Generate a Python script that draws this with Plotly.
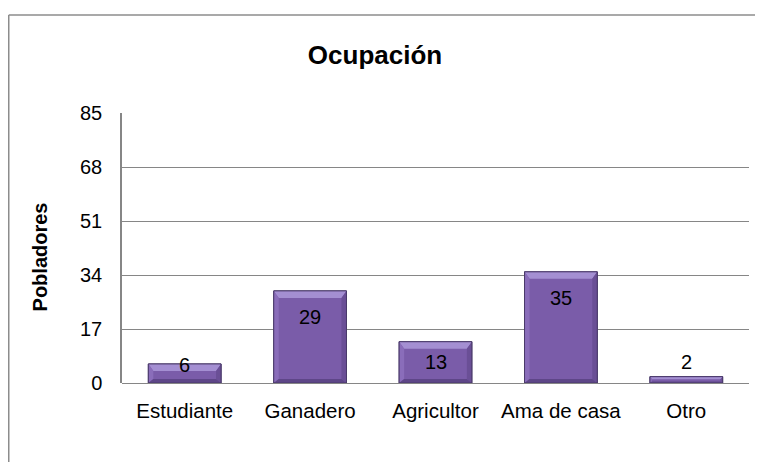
import plotly.graph_objects as go

categories = ["Estudiante", "Ganadero", "Agricultor", "Ama de casa", "Otro"]
values = [6, 29, 13, 35, 2]
y_ticks = [0, 17, 34, 51, 68, 85]

title_text = "Ocupación"
y_title = "Pobladores"

OFF = 8  # page body margin offset
W, H = 763 - OFF, 462 - OFF
ML, MR, MT, MB = 122 - OFF, 14, 113 - OFF, 79
plot_w = W - ML - MR
plot_h = H - MT - MB
y_max = y_ticks[-1]
n = len(categories)
bar_w = 0.58

px_x = plot_w / n          # px per x unit
px_y = plot_h / y_max      # px per y unit

font = "Liberation Sans, Arial, sans-serif"
grid = "#868686"

xs = list(range(n))

fig = go.Figure()
fig.add_trace(go.Bar(
    x=xs, y=values, width=bar_w,
    marker=dict(color="#7a5ca9", line=dict(color="#4a3a6a", width=1)),
    hoverinfo="skip",
))

shapes = []
# outer chart border (top and left edges visible in the crop)
bx0 = (0 - ML + 0.75) / plot_w
by1 = (H - MB - 7) / plot_h
shapes.append(dict(type="line", xref="paper", yref="paper", x0=bx0, x1=(W - ML) / plot_w,
                   y0=by1, y1=by1, line=dict(color="#8c8c8c", width=1.5), layer="below"))
shapes.append(dict(type="line", xref="paper", yref="paper", x0=bx0, x1=bx0,
                   y0=-MB / plot_h, y1=by1, line=dict(color="#8c8c8c", width=1.5), layer="below"))

for i, v in enumerate(values):
    hpx = v * px_y
    l = i - bar_w / 2
    r = i + bar_w / 2
    bt = min(7, hpx / 2.5) / px_y   # top bevel height (data units)
    bs = min(5, hpx / 3) / px_x     # side bevel width
    bb = min(4, hpx / 4) / px_y     # bottom bevel
    shapes.append(dict(type="path", xref="x", yref="y",
                       path=f"M {l},{v} L {r},{v} L {r-bs},{v-bt} L {l+bs},{v-bt} Z",
                       fillcolor="#a48fd2", line=dict(width=0), layer="above"))
    shapes.append(dict(type="path", xref="x", yref="y",
                       path=f"M {l},{v} L {l+bs},{v-bt} L {l+bs},{bb} L {l},0 Z",
                       fillcolor="#8a6dba", line=dict(width=0), layer="above"))
    shapes.append(dict(type="path", xref="x", yref="y",
                       path=f"M {r},{v} L {r-bs},{v-bt} L {r-bs},{bb} L {r},0 Z",
                       fillcolor="#6a4f96", line=dict(width=0), layer="above"))
    shapes.append(dict(type="path", xref="x", yref="y",
                       path=f"M {l},0 L {l+bs},{bb} L {r-bs},{bb} L {r},0 Z",
                       fillcolor="#5e4688", line=dict(width=0), layer="above"))
    shapes.append(dict(type="rect", xref="x", yref="y", x0=l, x1=r, y0=0, y1=v,
                       line=dict(color="#4a3a6a", width=1), fillcolor="rgba(0,0,0,0)", layer="above"))
    shapes.append(dict(type="rect", xref="x", yref="y", ysizemode="pixel", yanchor=0,
                       x0=l + 0.02, x1=r + 0.02, y0=-1, y1=-5,
                       fillcolor="rgba(0,0,0,0.12)", line=dict(width=0), layer="below"))

annotations = []
for i, v in enumerate(values):
    hpx = v * px_y
    if hpx >= 40:
        shift = -min(26, hpx / 2)
    elif hpx >= 15:
        shift = -1
    else:
        shift = 15
    annotations.append(dict(x=i, y=v, xref="x", yref="y", text=str(v), showarrow=False,
                            yanchor="middle", yshift=shift,
                            font=dict(family=font, size=20, color="#000000")))

annotations.append(dict(text=f"<b>{y_title}</b>", xref="paper", yref="paper",
                        x=(40 - OFF - ML) / plot_w, y=0.465, textangle=-90, showarrow=False,
                        xanchor="center", yanchor="middle",
                        font=dict(family=font, size=20, color="#000000")))

fig.update_layout(
    width=W, height=H,
    margin=dict(l=ML, r=MR, t=MT, b=MB),
    paper_bgcolor="white", plot_bgcolor="white",
    showlegend=False,
    title=dict(text=f"<b>{title_text}</b>", x=(375 - OFF) / W, xanchor="center",
               y=1 - (55 - OFF) / H, yanchor="middle", xref="container", yref="container",
               font=dict(family=font, size=26, color="#000000")),
    xaxis=dict(range=[-0.5, n - 0.5], tickvals=xs, ticktext=categories,
               showgrid=False, zeroline=False, showline=False,
               ticks="outside", ticklen=9, tickcolor="rgba(0,0,0,0)",
               tickfont=dict(family=font, size=20.5, color="#000000"), fixedrange=True),
    yaxis=dict(range=[0, y_max], tickvals=y_ticks, showgrid=True, gridcolor=grid, gridwidth=1,
               zeroline=True, zerolinecolor=grid, zerolinewidth=1,
               showline=True, linecolor=grid, linewidth=1.5,
               ticks="outside", ticklen=14, tickcolor="rgba(0,0,0,0)",
               tickfont=dict(family=font, size=20, color="#000000"), fixedrange=True),
    shapes=shapes,
    annotations=annotations,
)

fig.write_html("out.html", config={"displayModeBar": False})
